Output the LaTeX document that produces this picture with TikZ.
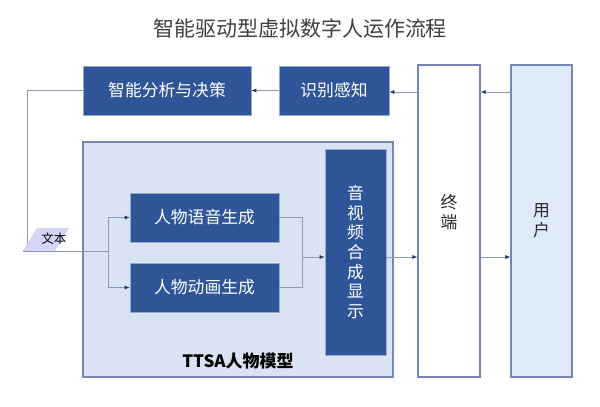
\documentclass[tikz,border=0pt]{standalone}
\usepackage{fontspec}
\setmainfont{Noto Sans CJK SC}
\usetikzlibrary{arrows.meta}
\definecolor{boxblue}{HTML}{2E5597}
\definecolor{ttsafill}{HTML}{DAE3F3}
\definecolor{ttsaline}{HTML}{7587B8}
\definecolor{userfill}{HTML}{DEEAF7}
\definecolor{conn}{HTML}{8C9AB4}
\definecolor{tipc}{HTML}{1F3864}
\definecolor{titlec}{HTML}{404040}
\definecolor{paracol}{HTML}{D5D5F5}
\tikzset{
  bluebox/.style={draw=ttsafill!60!boxblue, line width=0.6pt, fill=boxblue, text=white, inner sep=0pt, font=\fontsize{16.8}{19.6}\selectfont, align=center},
  tallbox/.style={draw=ttsaline, line width=1.1pt, inner sep=0pt, font=\fontsize{16.8}{19.6}\selectfont, align=center, text=black!85},
  conline/.style={draw=conn, line width=0.7pt},
  conarrow/.style={conline, -{Latex[length=5pt,width=4pt,fill=tipc,color=tipc]}},
}
\begin{document}
\begin{tikzpicture}[x=1pt,y=-1pt]
\useasboundingbox[fill=white] (0,0) rectangle (600,407);
\node[font=\fontsize{21}{24}\selectfont, text=titlec] (title) at (300,28) {智能驱动型虚拟数字人运作流程};
% big TTSA box
\node[draw=ttsaline, line width=1.1pt, fill=ttsafill, minimum width=310pt, minimum height=235pt, inner sep=0pt] (ttsa) at (238,259.5) {};
\node[font=\fontsize{17}{20}\selectfont\bfseries, text=black] (ttsalabel) at (238,361) {TTSA人物模型};
% top boxes
\node[bluebox, minimum width=168pt, minimum height=49pt] (ana) at (167,90.5) {智能分析与决策};
\node[bluebox, minimum width=110pt, minimum height=49pt] (rec) at (334,90.5) {识别感知};
% terminal and user
\node[tallbox, fill=white, minimum width=62pt, minimum height=312pt] (term) at (449,221) {};
\node[font=\fontsize{16.8}{19.6}\selectfont, align=center, text=black!85] (termlabel) at (449,212) {终\\端};
\node[tallbox, fill=userfill, minimum width=61pt, minimum height=312pt] (user) at (541.5,221) {用\\户};
% inner boxes
\node[bluebox, minimum width=61pt, minimum height=206pt] (av) at (355.5,252) {音\\视\\频\\合\\成\\显\\示};
\node[bluebox, minimum width=149pt, minimum height=49pt] (voice) at (204.5,217.5) {人物语音生成};
\node[bluebox, minimum width=149pt, minimum height=49pt] (anim) at (204.5,287.5) {人物动画生成};
% feedback line to text
\coordinate (fbtop) at (27,90.5);
\coordinate (fbbot) at (27,244);
\draw[conline] (ana.west) -- (fbtop) -- (fbbot);
% text parallelogram
\coordinate (pbl) at (23,251);
\coordinate (ptl) at (37,228);
\coordinate (ptr) at (69,228);
\coordinate (pbr) at (55,251);
\fill[paracol] (pbl) -- (ptl) -- (ptr) -- (pbr) -- cycle;
\node[font=\fontsize{12.5}{14}\selectfont, text=black] (txt) at (54,238.5) {文本};
\coordinate (split) at (108,251);
\draw[conline] (pbl) -- (split);
\draw[conarrow] (split) |- (voice.west);
\draw[conarrow] (split) |- (anim.west);
% merge
\coordinate (mtop) at (302,217.5);
\coordinate (mbot) at (302,287.5);
\coordinate (mmid) at (302,257);
\draw[conline] (voice.east) -- (mtop) -- (mbot) -- (anim.east);
\draw[conarrow] (mmid) -- (av.west |- mmid);
\draw[conarrow] (av.east |- mmid) -- (term.west |- mmid);
\draw[conarrow] (term.east |- mmid) -- (user.west |- mmid);
% top arrows
\coordinate (toprow) at (0,92);
\draw[conarrow] (user.west |- toprow) -- (term.east |- toprow);
\draw[conarrow] (term.west |- toprow) -- (rec.east |- toprow);
\draw[conarrow] (rec.west) -- (ana.east);
\end{tikzpicture}
\end{document}
